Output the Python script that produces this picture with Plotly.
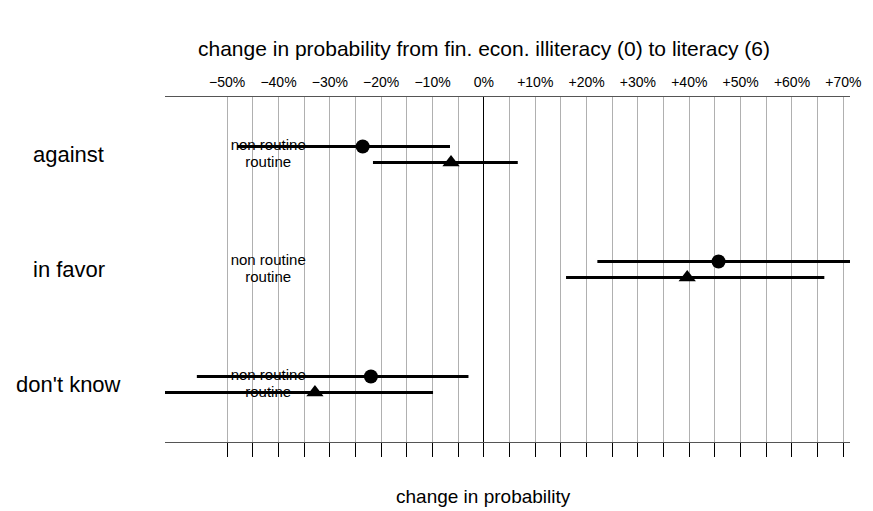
import plotly.graph_objects as go

# ---- data (percent change in probability) ----
categories = ["against", "in favor", "don't know"]
groups = ["non routine", "routine"]

est_nonroutine = [-23.6, 45.7, -22.0]
low_nonroutine = [-48.0, 22.1, -55.9]
high_nonroutine = [-6.6, 71.4, -3.0]

est_routine = [-6.4, 39.6, -32.9]
low_routine = [-21.6, 16.0, -64.0]
high_routine = [6.6, 66.3, -9.9]

grid_ticks = list(range(-50, 75, 5))
label_ticks = list(range(-50, 80, 10))
label_text = [("\u2212%d%%" % -v) if v < 0 else ("0%" if v == 0 else "+%d%%" % v) for v in label_ticks]

# ---- layout constants ----
W, H = 873, 511
L, R, T, B = 165, 12, 97, 69
FONT = "Liberation Sans, Arial, Helvetica, sans-serif"
OFF = 0.07
LABEL_X = -42.0

pos = [i + 1 for i in range(len(categories))]
y_nr = [p - OFF for p in pos]
y_r = [p + OFF for p in pos]

fig = go.Figure()

def add_series(est, low, high, ys, symbol, size, name):
    fig.add_trace(go.Scatter(
        x=est, y=ys, mode="markers", name=name,
        marker=dict(symbol=symbol, size=size, color="black"),
        error_x=dict(type="data", symmetric=False,
                     array=[h - e for h, e in zip(high, est)],
                     arrayminus=[e - l for e, l in zip(est, low)],
                     thickness=3, width=0, color="black"),
        showlegend=False, hoverinfo="skip", cliponaxis=True,
    ))

add_series(est_nonroutine, low_nonroutine, high_nonroutine, y_nr, "circle", 14, groups[0])
add_series(est_routine, low_routine, high_routine, y_r, "triangle-up", 15, groups[1])

# in-plot labels
fig.add_trace(go.Scatter(
    x=[LABEL_X] * len(pos), y=y_nr, mode="text", text=[groups[0]] * len(pos),
    textfont=dict(family=FONT, size=15, color="black"), showlegend=False, hoverinfo="skip"))
fig.add_trace(go.Scatter(
    x=[LABEL_X] * len(pos), y=[y + 0.01 for y in y_r], mode="text", text=[groups[1]] * len(pos),
    textfont=dict(family=FONT, size=15, color="black"), showlegend=False, hoverinfo="skip"))

# dummy trace for top axis
fig.add_trace(go.Scatter(x=[0], y=[2], xaxis="x2", mode="markers",
                         marker=dict(opacity=0), showlegend=False, hoverinfo="skip"))

xrange = [-62.1, 71.3]
fig.update_layout(
    width=W, height=H,
    margin=dict(l=L, r=R, t=T, b=B),
    plot_bgcolor="white", paper_bgcolor="white",
    font=dict(family=FONT, color="black", size=12),
    xaxis=dict(range=xrange, tickvals=grid_ticks, showticklabels=False,
               ticks="outside", ticklen=14, tickcolor="black", tickwidth=1,
               showgrid=True, gridcolor="#b0b0b0", gridwidth=1,
               zeroline=True, zerolinecolor="black", zerolinewidth=1,
               showline=True, linecolor="#555555", linewidth=1),
    xaxis2=dict(range=xrange, overlaying="x", side="top", tickvals=label_ticks,
                ticktext=label_text, ticks="outside", ticklen=3, tickcolor="rgba(0,0,0,0)",
                showgrid=False, zeroline=False,
                showline=True, linecolor="#555555", linewidth=1,
                tickfont=dict(family=FONT, size=14, color="black")),
    yaxis=dict(range=[3.5, 0.5], showticklabels=False, ticks="", showgrid=False,
               zeroline=False, showline=False),
    annotations=[
        dict(text="change in probability from fin. econ. illiteracy (0) to literacy (6)",
             xref="paper", yref="paper", x=(489 - L) / (W - L - R), y=1 + (T - 48) / (H - T - B),
             xanchor="center", yanchor="middle", showarrow=False,
             font=dict(family=FONT, size=21, color="black")),
        dict(text="change in probability",
             xref="paper", yref="paper", x=(489 - L) / (W - L - R), y=-(496 - (H - B)) / (H - T - B),
             xanchor="center", yanchor="middle", showarrow=False,
             font=dict(family=FONT, size=19, color="black")),
    ] + [
        dict(text=c, xref="paper", yref="y", x=(67 - L) / (W - L - R), y=p,
             xanchor="center", yanchor="middle", showarrow=False,
             font=dict(family=FONT, size=22, color="black"))
        for c, p in zip(categories, pos)
    ],
)

fig.write_html("out.html", config={"displayModeBar": False},
               post_script="document.body.style.margin='0px';")
